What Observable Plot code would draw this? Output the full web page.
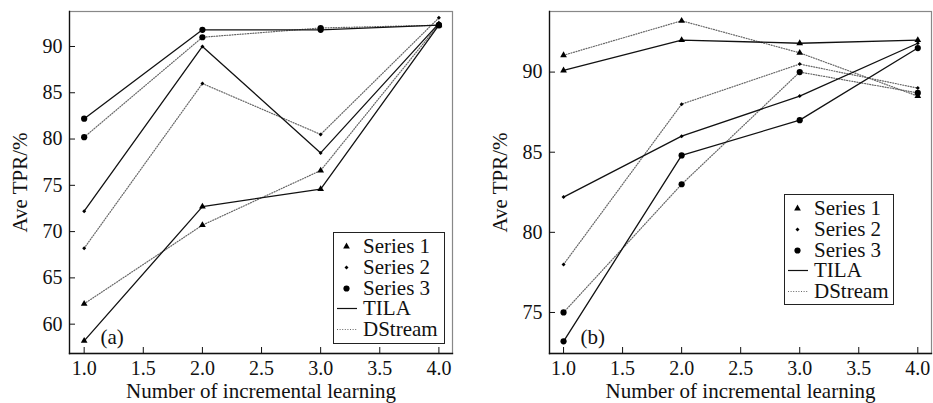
<!DOCTYPE html>
<html>
<head>
<meta charset="utf-8">
<script src="https://cdn.jsdelivr.net/npm/d3@7"></script>
<script src="https://cdn.jsdelivr.net/npm/@observablehq/plot@0.6"></script>
<style>
  html, body { margin: 0; padding: 0; background: white; }
  #wrap { position: relative; width: 933px; height: 403px; display: flex; font-family: "Liberation Serif", "Times New Roman", "DejaVu Serif", serif; }
  .legend { position: absolute; border: 1.2px solid #222; background: white; box-sizing: border-box; padding-top: 3px; }
  .row { position: relative; height: 20.8px; font-size: 21px; color: #111; white-space: nowrap; }
  .row svg { position: absolute; left: 0; top: 0; }
  .row span { position: absolute; left: 29px; top: 2px; line-height: 16px; }
  #wrap svg, #wrap svg text { font-family: "Liberation Serif", "Times New Roman", "DejaVu Serif", serif !important; }
</style>
</head>
<body>
<div id="wrap"></div>
<script>
// ---- data ----
const steps = [1, 2, 3, 4];
const seriesNames = ["Series 1", "Series 2", "Series 3"];
const methods = ["TILA", "DStream"];
const xTicks = [1.0, 1.5, 2.0, 2.5, 3.0, 3.5, 4.0];
const yTicksA = [60, 65, 70, 75, 80, 85, 90];
const yTicksB = [75, 80, 85, 90];

// Panel (a)
const aTILA1 = [58.2, 72.7, 74.6, 92.3];
const aDStream1 = [62.2, 70.7, 76.6, 92.4];
const aTILA2 = [72.2, 90.0, 78.5, 92.5];
const aDStream2 = [68.2, 86.0, 80.5, 93.1];
const aTILA3 = [82.2, 91.8, 91.8, 92.3];
const aDStream3 = [80.2, 91.0, 92.0, 92.3];

// Panel (b)
const bTILA1 = [90.1, 92.0, 91.8, 92.0];
const bDStream1 = [91.05, 93.2, 91.2, 88.5];
const bTILA2 = [82.2, 86.0, 88.5, 91.8];
const bDStream2 = [78.0, 88.0, 90.5, 89.0];
const bTILA3 = [73.2, 84.8, 87.0, 91.5];
const bDStream3 = [75.0, 83.0, 90.0, 88.7];

function table(groups) {
  const rows = [];
  for (const [series, method, vals] of groups)
    vals.forEach((v, i) => rows.push({series, method, x: steps[i], y: v}));
  return rows;
}
const dataA = table([
  ["Series 1", "TILA", aTILA1], ["Series 1", "DStream", aDStream1],
  ["Series 2", "TILA", aTILA2], ["Series 2", "DStream", aDStream2],
  ["Series 3", "TILA", aTILA3], ["Series 3", "DStream", aDStream3]
]);
const dataB = table([
  ["Series 1", "TILA", bTILA1], ["Series 1", "DStream", bDStream1],
  ["Series 2", "TILA", bTILA2], ["Series 2", "DStream", bDStream2],
  ["Series 3", "TILA", bTILA3], ["Series 3", "DStream", bDStream3]
]);

const symbolOf = {"Series 1": "triangle", "Series 2": "diamond2", "Series 3": "circle"};
const rOf = {"Series 1": 2.5, "Series 2": 1.8, "Series 3": 3.1};
const FONT = "Liberation Serif, Times New Roman, DejaVu Serif, serif";

function panel(data, {width, marginLeft, marginRight, xDomain, yDomain, yTicks, tag}) {
  const marks = [
    Plot.frame({stroke: "#888", strokeWidth: 1.2}),
    Plot.frame({anchor: "left", stroke: "#111", strokeWidth: 1.3}),
    Plot.frame({anchor: "bottom", stroke: "#111", strokeWidth: 1.3}),
    // inward tick marks
    Plot.axisY({ticks: yTicks, tickSize: 6, dx: 6, tickFormat: () => "", label: null, stroke: "#111"}),
    Plot.axisX({ticks: xTicks, tickSize: 6, dy: -6, tickFormat: () => "", label: null, stroke: "#111"}),
    // tick labels + titles
    Plot.axisY({ticks: yTicks, tickSize: 0, tickPadding: 7, fontSize: 20, fill: "#111", fontFamily: FONT,
      label: "Ave TPR/%", labelAnchor: "center", labelArrow: false, labelOffset: 57}),
    Plot.axisX({ticks: xTicks, tickSize: 0, tickPadding: 7, fontSize: 20, fill: "#111", tickFormat: ".1f", fontFamily: FONT,
      label: "Number of incremental learning", labelAnchor: "center", labelArrow: false, labelOffset: 44}),
    Plot.line(data.filter(d => d.method === "DStream"), {x: "x", y: "y", z: "series",
      stroke: "#666", strokeWidth: 1.2, strokeDasharray: "1,1.6"}),
    Plot.line(data.filter(d => d.method === "TILA"), {x: "x", y: "y", z: "series",
      stroke: "#111", strokeWidth: 1.3}),
    ...seriesNames.map(s => Plot.dot(data.filter(d => d.series === s),
      {x: "x", y: "y", symbol: symbolOf[s], r: rOf[s], fill: "#000", stroke: "none"})),
    Plot.text([tag], {frameAnchor: "bottom-left", text: d => d, dx: 31, dy: -10, fontFamily: FONT,
      textAnchor: "start", lineAnchor: "bottom", fontSize: 21, fill: "#111"})
  ];
  return Plot.plot({
    width, height: 403,
    marginLeft, marginRight, marginTop: 11, marginBottom: 50,
    style: {fontFamily: FONT, fontSize: "20px", background: "white", overflow: "visible"},
    x: {domain: xDomain},
    y: {domain: yDomain},
    marks
  });
}

const wrap = document.getElementById("wrap");
wrap.appendChild(panel(dataA, {width: 466, marginLeft: 69, marginRight: 14,
  xDomain: [0.876, 4.115], yDomain: [56.83, 93.78], yTicks: yTicksA, tag: "(a)"}));
wrap.appendChild(panel(dataB, {width: 467, marginLeft: 83, marginRight: 2,
  xDomain: [0.881, 4.116], yDomain: [72.44, 93.78], yTicks: yTicksB, tag: "(b)"}));

// axis title size
d3.selectAll('#wrap [aria-label$="axis label"] text, #wrap [aria-label$="axis label"]').style("font-size", "21px");

// legends
const legendItems = [
  ...seriesNames.map(s => ({label: s, kind: "symbol", series: s})),
  {label: "TILA", kind: "line", dash: null, stroke: "#111"},
  {label: "DStream", kind: "line", dash: "1,1.6", stroke: "#666"}
];
function legend(left, top, w, h) {
  const box = document.createElement("div");
  box.className = "legend";
  Object.assign(box.style, {left: left + "px", top: top + "px", width: w + "px", height: h + "px"});
  for (const it of legendItems) {
    const row = document.createElement("div");
    row.className = "row";
    const svg = d3.create("svg").attr("width", 28).attr("height", 21);
    if (it.kind === "symbol") {
      const sym = {triangle: d3.symbolTriangle, diamond2: d3.symbolDiamond2, circle: d3.symbolCircle}[symbolOf[it.series]];
      const r = rOf[it.series];
      svg.append("path").attr("transform", "translate(12.5,10.5)")
        .attr("d", d3.symbol(sym, Math.PI * r * r)()).attr("fill", "#000");
    } else {
      svg.append("line").attr("x1", 3).attr("x2", 23).attr("y1", 10.5).attr("y2", 10.5)
        .attr("stroke", it.stroke).attr("stroke-width", 1.2)
        .attr("stroke-dasharray", it.dash);
    }
    row.appendChild(svg.node());
    const span = document.createElement("span");
    span.textContent = it.label;
    row.appendChild(span);
    box.appendChild(row);
  }
  wrap.appendChild(box);
}
legend(333, 232, 112, 112);
legend(784, 194, 110, 111);
</script>
</body>
</html>
